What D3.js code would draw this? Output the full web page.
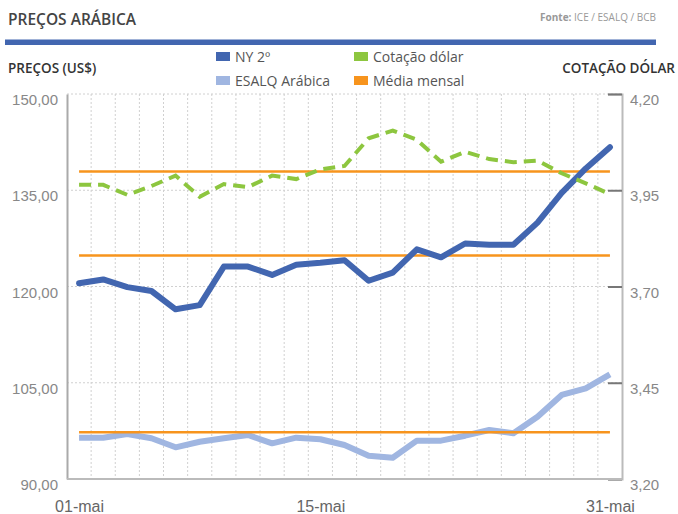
<!DOCTYPE html>
<html>
<head>
<meta charset="utf-8">
<script src="https://cdn.jsdelivr.net/npm/d3@7"></script>
<style>
  body { margin: 0; background: #fff; }
  svg { font-family: "Open Sans", sans-serif; }
</style>
</head>
<body>
<svg id="chart" width="678" height="514"></svg>
<script>
// Trading days of May
const dias = ["01-mai","02-mai","03-mai","06-mai","07-mai","08-mai","09-mai","10-mai",
  "13-mai","14-mai","15-mai","16-mai","17-mai","20-mai","21-mai","22-mai","23-mai",
  "24-mai","27-mai","28-mai","29-mai","30-mai","31-mai"];
const diasVisiveis = ["01-mai", "15-mai", "31-mai"];

// Series
const ny2 = [120.5,121.1,119.9,119.3,116.45,117.1,123.1,123.1,121.8,123.4,123.7,124.1,
  120.9,122.15,125.8,124.55,126.7,126.5,126.5,129.95,134.6,138.4,141.7];
const esalq = [96.44,96.44,97.0,96.35,94.94,95.8,96.35,96.86,95.56,96.44,96.19,95.3,
  93.63,93.32,95.98,95.98,96.75,97.64,97.12,99.71,103.1,104.13,106.3];
const dolar = [3.964,3.964,3.938,3.961,3.988,3.933,3.966,3.958,3.988,3.979,4.004,4.013,
  4.085,4.105,4.081,4.024,4.050,4.031,4.023,4.027,3.994,3.968,3.940];

// Monthly averages (media mensal)
const mediaNY = 124.84;
const mediaEsalq = 97.27;
const mediaDolar = 3.999;

const ticksPreco = [90, 105, 120, 135, 150];
const ticksDolar = [3.20, 3.45, 3.70, 3.95, 4.20];

const colors = {
  ny: "#4266b0",
  esalq: "#a0b6e1",
  dolar: "#8dc63f",
  media: "#f7941d"
};

const svg = d3.select("#chart");
const fmt = v => d3.format(".2f")(v).replace(".", ",");

const plot = { left: 67, right: 622, top: 94, bottom: 479 };

const x = d3.scalePoint().domain(dias).range([plot.left, plot.right]).padding(0.5);
const yL = d3.scaleLinear().domain([90, 150]).range([plot.bottom, plot.top]);
const yR = d3.scaleLinear().domain([3.20, 4.20]).range([plot.bottom, plot.top]);

// Header
svg.append("text").attr("x", 8).attr("y", 25)
  .attr("font-size", 15.5).attr("font-weight", 600).attr("fill", "#444")
  .text("PREÇOS ARÁBICA");
const fonte = svg.append("text").attr("x", 656).attr("y", 21)
  .attr("text-anchor", "end").attr("font-size", 10).attr("fill", "#999");
fonte.append("tspan").attr("font-weight", 700).text("Fonte: ");
fonte.append("tspan").text("ICE / ESALQ / BCB");
svg.append("rect").attr("x", 5).attr("y", 39.5).attr("width", 651).attr("height", 5.5)
  .attr("fill", "#4266b0");

svg.append("text").attr("x", 8).attr("y", 73)
  .attr("font-size", 13.5).attr("font-weight", 600).attr("fill", "#333")
  .text("PREÇOS (US$)");
svg.append("text").attr("x", 675).attr("y", 73).attr("text-anchor", "end")
  .attr("font-size", 13.5).attr("font-weight", 600).attr("fill", "#333")
  .text("COTAÇÃO DÓLAR");

// Legend
const legend = [
  { label: "NY 2º", color: colors.ny, lx: 216, ly: 52 },
  { label: "ESALQ Arábica", color: colors.esalq, lx: 216, ly: 76 },
  { label: "Cotação dólar", color: colors.dolar, lx: 354, ly: 52 },
  { label: "Média mensal", color: colors.media, lx: 354, ly: 76 }
];
const lg = svg.selectAll("g.legend").data(legend).join("g")
  .attr("class", "legend")
  .attr("transform", d => `translate(${d.lx},${d.ly})`);
lg.append("rect").attr("width", 14).attr("height", 9).attr("fill", d => d.color);
lg.append("text").attr("x", 19).attr("y", 9.5)
  .attr("font-size", 14).attr("font-weight", 500).attr("fill", "#555")
  .text(d => d.label);

// Grid
const grid = svg.append("g").attr("stroke", "#d0d0d0").attr("stroke-width", 1)
  .attr("stroke-dasharray", "2,2");
grid.selectAll("line.h").data(ticksPreco.slice(1)).join("line")
  .attr("x1", plot.left).attr("x2", plot.right)
  .attr("y1", d => yL(d)).attr("y2", d => yL(d));
grid.selectAll("line.v").data(dias.slice(0, -1)).join("line")
  .attr("x1", d => x(d) + x.step() / 2).attr("x2", d => x(d) + x.step() / 2)
  .attr("y1", plot.top).attr("y2", plot.bottom);

// Axes
const axisL = svg.append("g").attr("transform", `translate(${plot.left},0)`)
  .call(d3.axisLeft(yL).tickValues(ticksPreco).tickSize(0).tickFormat(fmt));
axisL.select(".domain").attr("stroke", "#aaa").attr("stroke-width", 2);
axisL.selectAll("text").attr("font-size", 15).attr("fill", "#888")
  .attr("x", -9).attr("dy", "0.7em");

const axisR = svg.append("g").attr("transform", `translate(${plot.right},0)`)
  .call(d3.axisRight(yR).tickValues(ticksDolar).tickSize(-14).tickFormat(fmt));
axisR.select(".domain").attr("stroke", "#bbb").attr("stroke-width", 2);
axisR.selectAll(".tick line").attr("stroke", "#777").attr("stroke-width", 2);
axisR.selectAll("text").attr("font-size", 15).attr("fill", "#888")
  .attr("x", 8).attr("dy", "0.7em");

const axisB = svg.append("g").attr("transform", `translate(0,${plot.bottom})`)
  .call(d3.axisBottom(x).tickValues(diasVisiveis).tickSize(0));
axisB.select(".domain").attr("stroke", "#bbb").attr("stroke-width", 2)
  .attr("d", `M${plot.left},0H${plot.right}`);
axisB.selectAll("text").attr("font-size", 16).attr("fill", "#666").attr("y", 22);

// Lines
const lineL = d3.line().x((d, i) => x(dias[i])).y(d => yL(d));
const lineR = d3.line().x((d, i) => x(dias[i])).y(d => yR(d));

svg.append("path").datum(esalq).attr("d", lineL).attr("fill", "none")
  .attr("stroke", colors.esalq).attr("stroke-width", 6).attr("stroke-linejoin", "round");

const medias = [
  { v: mediaNY, s: yL },
  { v: mediaEsalq, s: yL },
  { v: mediaDolar, s: yR }
];
svg.selectAll("line.media").data(medias).join("line")
  .attr("class", "media")
  .attr("x1", x(dias[0])).attr("x2", x(dias[dias.length - 1]))
  .attr("y1", d => d.s(d.v)).attr("y2", d => d.s(d.v))
  .attr("stroke", colors.media).attr("stroke-width", 2.5);

svg.append("path").datum(ny2).attr("d", lineL).attr("fill", "none")
  .attr("stroke", colors.ny).attr("stroke-width", 6).attr("stroke-linejoin", "round")
  .attr("stroke-linecap", "round");

svg.append("path").datum(dolar).attr("d", lineR).attr("fill", "none")
  .attr("stroke", colors.dolar).attr("stroke-width", 4).attr("stroke-dasharray", "12,7");
</script>
</body>
</html>
